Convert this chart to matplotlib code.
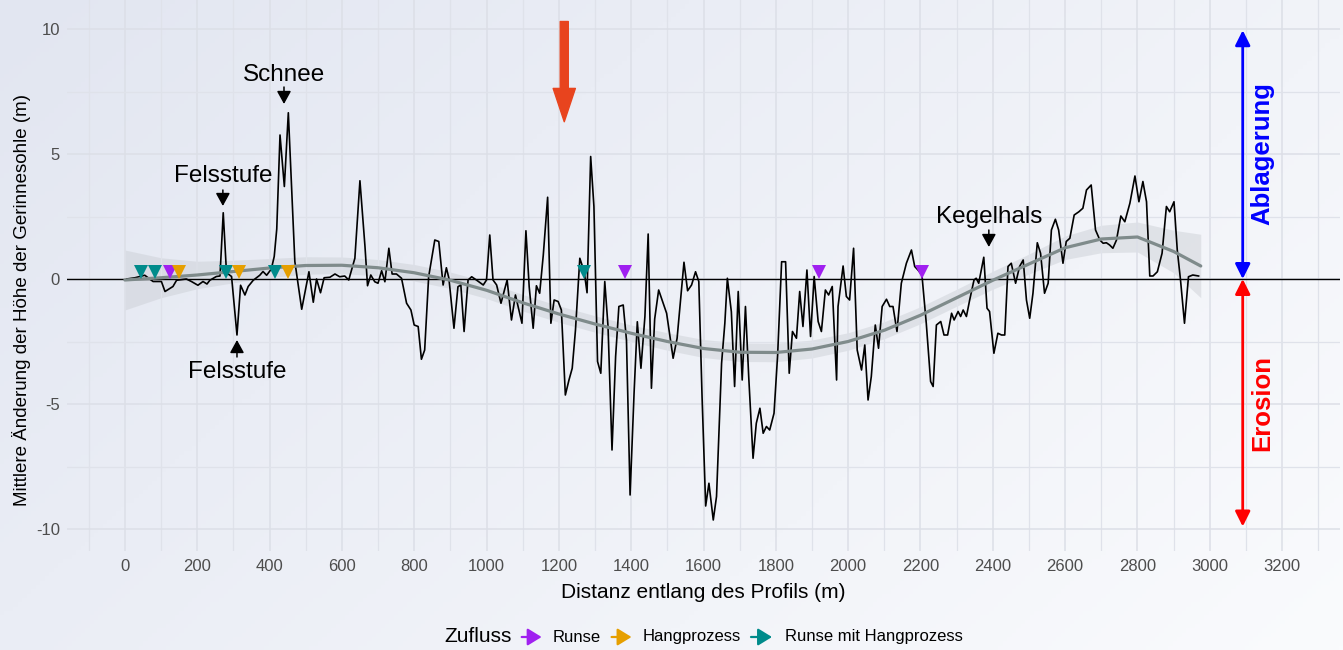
import numpy as np
import matplotlib
matplotlib.use('Agg')
import matplotlib.pyplot as plt
from matplotlib.patches import FancyArrowPatch

plt.rcParams['font.family'] = ['Liberation Sans', 'DejaVu Sans']
plt.rcParams['axes.unicode_minus'] = False

# ---------------- data ----------------
distance = [5, 28, 41, 55, 78, 101, 111, 133, 143, 170, 184, 202, 216, 227, 235, 253, 263, 272, 281, 295,
            310, 320, 332, 341, 355, 373, 382, 392, 405, 413, 420, 429, 441, 452, 470,
            489, 509, 521, 530, 541, 551, 567, 581, 594, 608, 619, 636, 650, 664, 671, 680, 691, 700,
            710, 719, 730, 739, 751, 765, 779, 791, 800, 811, 820, 829, 840, 857, 868, 880, 889, 896,
            910, 921, 929, 938, 949, 959, 972,
            991, 1000, 1009, 1018, 1028, 1040, 1057, 1069, 1080, 1098, 1109, 1118, 1129, 1138, 1147,
            1157, 1169, 1178, 1187, 1198, 1207, 1218, 1228, 1237, 1246, 1258, 1270, 1278, 1288, 1297,
            1307, 1316, 1327, 1336, 1347, 1357, 1366, 1378, 1387, 1397, 1408, 1417, 1427, 1438, 1447,
            1456, 1465,
            1476, 1498, 1516, 1527, 1546, 1556, 1567, 1578, 1587, 1596, 1606, 1615, 1627, 1636, 1650,
            1659, 1666, 1677, 1686, 1696, 1707, 1716, 1725, 1737, 1746, 1756, 1765, 1774, 1783, 1795,
            1805, 1816, 1827, 1837, 1846, 1857, 1866, 1875, 1886, 1896, 1906, 1917, 1926, 1937, 1946,
            1956, 1968,
            1972, 1986, 1995, 2004, 2015, 2025, 2037, 2046, 2055, 2064, 2075, 2084, 2094, 2106, 2115,
            2124, 2135, 2147, 2161, 2175, 2184, 2193, 2204, 2216, 2228, 2235, 2244, 2256, 2265, 2275,
            2286, 2293, 2304, 2311, 2318, 2327, 2336, 2348, 2354, 2361, 2375, 2384, 2391, 2403, 2414,
            2424, 2433, 2442, 2451, 2463, 2474,
            2484, 2493, 2502, 2511, 2523, 2532, 2543, 2553, 2562, 2573, 2582, 2594, 2603, 2613, 2625,
            2638, 2649, 2659, 2672, 2684, 2696, 2705, 2714, 2723, 2732, 2742, 2754, 2765, 2779, 2793,
            2804, 2815, 2825, 2834, 2843, 2855, 2868, 2880, 2889, 2901, 2910, 2919, 2930, 2941, 2953,
            2969]
change = [0.0, 0.05, 0.1, 0.15, -0.1, -0.1, -0.5, -0.3, -0.05, 0.0, -0.1, -0.25, -0.1, -0.2, -0.05, 0.1, 0.12, 2.65, 0.25, 0.1,
          -2.24, -0.25, -0.64, -0.3, -0.05, 0.15, 0.3, 0.15, 0.4, 0.9, 2.0, 5.76, 3.7, 6.65, 0.7,
          -1.21, 0.29, -0.93, 0.0, -0.55, 0.05, 0.07, 0.2, 0.09, 0.12, -0.04, 0.83, 3.93, 1.29, -0.27, 0.16, -0.11, -0.17,
          0.33, -0.11, 1.23, 0.2, 0.2, 0.03, -0.97, -1.24, -1.84, -1.9, -3.21, -2.84, 0.09, 1.56, 1.5, -0.24, 0.45, 0.03,
          -1.97, -0.31, -0.24, -2.1, -0.04, 0.09, -0.04,
          -0.24, -0.04, 1.76, -0.04, -0.24, -0.97, -0.04, -1.64, -0.64, -1.77, 1.93, -0.31, -1.97, -0.27, -0.57,
          0.96, 3.27, -1.77, -0.84, -0.9, -1.24, -4.64, -4.04, -3.57, -2.04, 0.83, 0.3, -0.55, 4.9, 2.9,
          -3.3, -3.77, -0.1, -1.9, -6.84, -3.1, -1.1, -1.04, -2.44, -8.64, -4.57, -1.71, -3.57, -1.5, 1.8,
          -4.37, -1.6,
          -0.44, -1.37, -3.17, -2.37, 0.67, -0.47, -0.24, 0.29, -0.1, -4.7, -9.08, -8.17, -9.64, -8.7, -3.37,
          -1.77, 0.03, -1.31, -4.3, -0.5, -4.04, -1.1, -3.9, -7.17, -5.77, -5.17, -6.17, -5.9, -6.04, -5.37,
          -3.04, 0.69, 0.69, -3.77, -2.1, -2.37, -0.5, -1.9, 0.36, -2.3, 0.1, -1.7, -2.1, -0.44, -0.64,
          -0.3, -4.04,
          -1.1, 0.52, -0.7, -0.84, 1.23, -2.84, -3.64, -2.64, -4.84, -3.9, -1.84, -2.77, -1.1, -0.81, -1.1,
          -1.1, -2.1, -0.17, 0.63, 1.16, 0.5, 0.36, 0.16, -1.77, -4.1, -4.3, -1.84, -1.7, -2.24, -2.24,
          -1.37, -1.64, -1.3, -1.5, -1.24, -1.5, -0.84, -0.04, 0.03, -0.17, 0.87, -1.17, -1.3, -2.97, -2.17,
          -2.24, -2.24, 0.5, 0.63, -0.17, 0.5,
          0.76, -0.84, -1.57, -0.57, 1.45, 1.03, -0.57, -0.17, 1.96, 2.39, 1.96, 0.63, 1.5, 1.63, 2.56,
          2.69, 2.83, 3.56, 3.76, 1.96, 1.56, 1.43, 1.45, 1.36, 1.23, 1.56, 2.52, 2.29, 3.03, 4.12,
          3.09, 3.9, 3.09, 0.12, 0.12, 0.29, 1.03, 2.9, 2.69, 3.09, 1.16, -0.04, -1.77, 0.09, 0.16,
          0.12]

smooth_distance = [0, 100, 200, 300, 400, 500, 600, 700, 800, 900, 1000, 1100, 1200, 1300, 1400, 1500,
                   1600, 1700, 1800, 1900, 2000, 2100, 2200, 2300, 2400, 2500, 2600, 2700, 2800, 2900, 2975]
smooth_change = [-0.04, 0.05, 0.16, 0.3, 0.44, 0.54, 0.55, 0.45, 0.25, -0.05, -0.45, -0.95, -1.4, -1.8, -2.17, -2.5,
                 -2.78, -2.93, -2.94, -2.8, -2.5, -2.05, -1.45, -0.75, -0.05, 0.6, 1.25, 1.6, 1.68, 1.1, 0.52]
smooth_halfwidth = [1.2, 0.8, 0.55, 0.45, 0.38, 0.35, 0.33, 0.33, 0.33, 0.33, 0.33, 0.33, 0.33, 0.33, 0.33, 0.35,
                    0.36, 0.37, 0.37, 0.36, 0.35, 0.34, 0.34, 0.34, 0.36, 0.4, 0.47, 0.55, 0.6, 0.85, 1.27]

trib_distance = [46, 83, 126, 150, 281, 315, 415, 450, 1270, 1384, 1919, 2204]
trib_type = ['Runse mit Hangprozess', 'Runse mit Hangprozess', 'Runse', 'Hangprozess',
             'Runse mit Hangprozess', 'Hangprozess', 'Runse mit Hangprozess', 'Hangprozess',
             'Runse mit Hangprozess', 'Runse', 'Runse', 'Runse']
trib_marker_level = 0.3
legend_types = ['Runse', 'Hangprozess', 'Runse mit Hangprozess']
type_colors = {'Runse': '#a020f0', 'Hangprozess': '#e69f00', 'Runse mit Hangprozess': '#008b8b'}

x_ticks = list(range(0, 3201, 200))
y_ticks = [-10, -5, 0, 5, 10]

# ---------------- figure ----------------
W, H = 1343, 650
fig = plt.figure(figsize=(W / 100, H / 100), dpi=100)

# gradient background
bg = fig.add_axes([0, 0, 1, 1], zorder=-10)
gx, gy = np.meshgrid(np.linspace(0, 1, 300), np.linspace(0, 1, 150))
t = np.clip(0.65 * gx + 0.35 * gy, 0, 1)
c0 = np.array([226, 230, 241]) / 255.0
c1 = np.array([250, 251, 253]) / 255.0
img = c0[None, None, :] * (1 - t[..., None]) + c1[None, None, :] * t[..., None]
bg.imshow(img, aspect='auto', extent=[0, 1, 0, 1], origin='upper')
bg.axis('off')

ax = fig.add_axes([67 / W, 1 - 551 / H, 1273 / W, 551 / H])
ax.set_facecolor('none')
ax.set_xlim(-160, 3360)
ax.set_ylim(-10.88, 11.16)

ax.set_xticks(x_ticks)
ax.set_xticks([v for v in range(-100, 3301, 200)], minor=True)
ax.set_yticks(y_ticks)
ax.set_yticks([-7.5, -2.5, 2.5, 7.5], minor=True)
ax.grid(which='major', color='#dcdfe7', lw=1.1, zorder=0)
ax.grid(which='minor', color='#dfe2ea', lw=0.9, zorder=0)
ax.tick_params(which='both', length=0)
ax.tick_params(axis='x', pad=6, labelsize=12, labelcolor='#4d4d4d')
ax.tick_params(axis='y', pad=5, labelsize=12, labelcolor='#4d4d4d')
for s in ax.spines.values():
    s.set_visible(False)

ax.set_xlabel('Distanz entlang des Profils (m)', fontsize=15)
ax.xaxis.set_label_coords(0.5, -0.058)
ax.set_ylabel('Mittlere Änderung der Höhe der Gerinnesohle (m)', fontsize=13.5)
ax.yaxis.set_label_coords(-0.0285, 0.4555)

ax.axhline(0, color='black', lw=1.0, zorder=2)

sd = np.array(smooth_distance)
sc = np.array(smooth_change)
sh = np.array(smooth_halfwidth)
ax.fill_between(sd, sc - sh, sc + sh, color='#c9cdd3', alpha=0.45, lw=0, zorder=1)
ax.plot(distance, change, color='black', lw=1.2, zorder=3)
ax.plot(sd, sc, color='#7f8b8b', lw=2.3, zorder=4, solid_capstyle='round')

for d, ty in zip(trib_distance, trib_type):
    ax.plot([d], [trib_marker_level], marker='v', ms=10.5, color=type_colors[ty],
            markeredgewidth=0, zorder=6)

# annotations
def small_arrow(x, y0, y1):
    ax.annotate('', xy=(x, y1), xytext=(x, y0),
                arrowprops=dict(arrowstyle='-|>,head_length=0.6,head_width=0.33', mutation_scale=13,
                                color='black', lw=1.1, shrinkA=0, shrinkB=0), zorder=7)

ax.text(440, 8.16, 'Schnee', fontsize=17.5, ha='center', va='center', zorder=7)
small_arrow(440, 7.68, 7.0)
ax.text(271, 4.12, 'Felsstufe', fontsize=17.5, ha='center', va='center', zorder=7)
small_arrow(271, 3.56, 2.92)
ax.text(310, -3.72, 'Felsstufe', fontsize=17.5, ha='center', va='center', zorder=7)
small_arrow(310, -3.12, -2.44)
ax.text(2389, 2.48, 'Kegelhals', fontsize=17.5, ha='center', va='center', zorder=7)
small_arrow(2389, 1.96, 1.28)

big = FancyArrowPatch((1215, 10.3), (1215, 6.29),
                      arrowstyle='simple,head_length=24,head_width=16,tail_width=5.8',
                      mutation_scale=1, color='#e8441e', shrinkA=0, shrinkB=0, zorder=8)
ax.add_patch(big)

ax.annotate('', xy=(3091, 9.95), xytext=(3091, 0),
            arrowprops=dict(arrowstyle='<|-|>,head_length=0.6,head_width=0.3', mutation_scale=15,
                            color='#0000ff', lw=2.0, shrinkA=0, shrinkB=0), zorder=7)
ax.annotate('', xy=(3091, -9.9), xytext=(3091, 0),
            arrowprops=dict(arrowstyle='<|-|>,head_length=0.6,head_width=0.3', mutation_scale=15,
                            color='#ff0000', lw=2.0, shrinkA=0, shrinkB=0), zorder=7)
ax.text(3146, 5.0, 'Ablagerung', rotation=90, color='#0000ff', fontsize=18.5, fontweight='bold',
        ha='center', va='center', zorder=7)
ax.text(3146, -4.96, 'Erosion', rotation=90, color='#ff0000', fontsize=18.5, fontweight='bold',
        ha='center', va='center', zorder=7)

# legend (bottom)
ly = H - 637
fig.text(444 / W, ly / H, 'Zufluss', fontsize=15, ha='left', va='center')
key_x = [(521.7, 541.6, 553), (611.6, 631.5, 643), (751, 772, 784.6)]
for ty, (xa, xb, xt) in zip(legend_types, key_x):
    fig.patches.append(FancyArrowPatch((xa / W, ly / H), (xb / W, ly / H), transform=fig.transFigure,
                                       arrowstyle='-|>,head_length=0.65,head_width=0.4', mutation_scale=13,
                                       color=type_colors[ty], lw=1.6, shrinkA=0, shrinkB=0))
    fig.text(xt / W, ly / H, ty, fontsize=12, ha='left', va='center')

fig.savefig('out.png', dpi=100)
